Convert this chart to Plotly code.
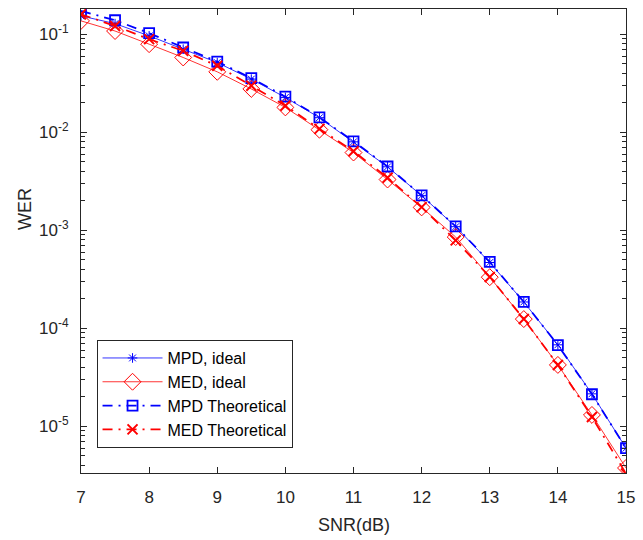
import plotly.graph_objects as go

snr = [7, 7.5, 8, 8.5, 9, 9.5, 10, 10.5, 11, 11.5, 12, 12.5, 13, 13.5, 14, 14.5, 15]

mpd_ideal = [0.154, 0.1285, 0.0964, 0.0705, 0.0515, 0.0349, 0.0227, 0.0141, 0.0080,
             0.00445, 0.00226, 0.00109, 4.7e-4, 1.86e-4, 6.8e-5, 2.15e-5, 6.0e-6]
med_ideal = [0.137, 0.108, 0.0793, 0.058, 0.0414, 0.0277, 0.01795, 0.01064, 0.00622,
             0.0033, 0.001714, 8.55e-4, 3.33e-4, 1.245e-4, 4.24e-5, 1.31e-5, 3.77e-6]
mpd_theo = [0.173, 0.139, 0.1026, 0.0733, 0.0527, 0.0357, 0.0231, 0.01422, 0.0081,
            0.00448, 0.00227, 0.0011, 4.76e-4, 1.865e-4, 6.76e-5, 2.13e-5, 6.0e-6]
med_theo = [0.160, 0.1217, 0.0892, 0.0678, 0.0477, 0.0299, 0.0187, 0.01084, 0.00641,
            0.00344, 0.001726, 7.9e-4, 3.35e-4, 1.245e-4, 4.24e-5, 1.25e-5, 3.3e-6]

x_ticks = [7, 8, 9, 10, 11, 12, 13, 14, 15]
y_ticks = [1e-5, 1e-4, 1e-3, 1e-2, 1e-1]
y_ticktext = ["10<sup>-5</sup>", "10<sup>-4</sup>", "10<sup>-3</sup>", "10<sup>-2</sup>", "10<sup>-1</sup>"]

BLUE = "#0000FF"
RED = "#FF0000"
AX = "#262626"
FONT = "Liberation Sans, Arial, sans-serif"
DASHDOT = "10px,6px,2px,6px"

fig = go.Figure()
fig.add_trace(go.Scatter(
    x=snr, y=mpd_ideal, name="MPD, ideal", mode="lines+markers",
    line=dict(color=BLUE, width=0.8),
    marker=dict(symbol="asterisk-open", size=8, color=BLUE, line=dict(color=BLUE, width=1))))
fig.add_trace(go.Scatter(
    x=snr, y=med_ideal, name="MED, ideal", mode="lines+markers",
    line=dict(color=RED, width=0.8),
    marker=dict(symbol="diamond-open", size=13, color=RED, line=dict(color=RED, width=1))))
fig.add_trace(go.Scatter(
    x=snr, y=mpd_theo, name="MPD Theoretical", mode="lines+markers",
    line=dict(color=BLUE, width=1.8, dash=DASHDOT),
    marker=dict(symbol="square-open", size=10, color=BLUE, line=dict(color=BLUE, width=1.8))))
fig.add_trace(go.Scatter(
    x=snr, y=med_theo, name="MED Theoretical", mode="lines+markers",
    line=dict(color=RED, width=1.8, dash=DASHDOT),
    marker=dict(symbol="x-thin-open", size=10, color=RED, line=dict(color=RED, width=2))))

fig.update_layout(
    width=643, height=540,
    margin=dict(l=81, r=11, t=8, b=67),
    paper_bgcolor="white", plot_bgcolor="white",
    font=dict(family=FONT, size=17, color=AX),
    showlegend=True,
    legend=dict(
        x=0.0285, y=(473 - 448) / 465.0, xanchor="left", yanchor="bottom",
        bgcolor="white", bordercolor=AX, borderwidth=1,
        font=dict(family=FONT, size=16, color="black"),
        itemwidth=60, tracegroupgap=0,
    ),
    annotations=[
        dict(text="SNR(dB)", x=0.5, y=-(525 - 473) / 465.0, xref="paper", yref="paper",
             xanchor="center", yanchor="middle", showarrow=False,
             font=dict(family=FONT, size=18, color=AX)),
        dict(text="WER", x=(25 - 81) / 551.0, y=0.568, xref="paper", yref="paper",
             xanchor="center", yanchor="middle", showarrow=False, textangle=-90,
             font=dict(family=FONT, size=18, color=AX)),
    ],
)

fig.update_xaxes(
    range=[7, 15], tickvals=x_ticks, ticks="inside", ticklen=6, tickcolor=AX,
    showline=True, linecolor=AX, linewidth=1, mirror="ticks", showgrid=False, zeroline=False,
    tickfont=dict(family=FONT, size=17, color=AX), ticklabelstandoff=9,
)
fig.update_yaxes(
    type="log", range=[-5.475, -0.742], tickvals=y_ticks, ticktext=y_ticktext,
    ticks="inside", ticklen=6, tickcolor=AX,
    minor=dict(ticks="inside", ticklen=4, tickcolor=AX, dtick="D1", showgrid=False),
    showline=True, linecolor=AX, linewidth=1, mirror="ticks", showgrid=False, zeroline=False,
    tickfont=dict(family=FONT, size=17, color=AX), ticklabelstandoff=8,
)

fig.write_html(
    "out.html",
    config={"displayModeBar": False},
    post_script="document.body.style.margin='0px';document.body.style.overflow='hidden';",
)
